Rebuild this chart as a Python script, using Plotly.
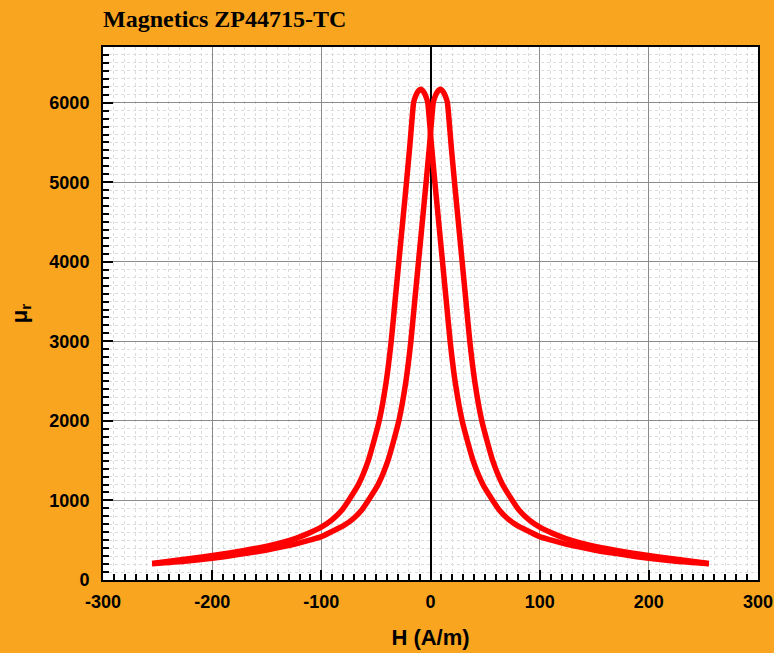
import plotly.graph_objects as go

# Ascending branch (peak near +9 A/m)
h_up = [-255, -225, -200, -175, -150, -125, -110, -100, -90, -80, -70, -63, -57, -48, -39, -29, -22.5,
        -18, -14.5, -11, -7.5, -4, -1, 1, 2.5, 4, 6, 9, 12, 14, 15.5, 17, 19, 22, 25.5, 29, 32.5, 36,
        40.5, 47, 57, 66, 75, 81, 90, 100, 113, 124, 139, 159, 184, 209, 234, 255]
mu_up = [205, 235, 272, 322, 378, 448, 504, 545, 612, 680, 780, 880, 1000, 1200, 1500, 2000, 2500,
         3000, 3500, 4000, 4500, 5000, 5450, 5780, 6000, 6070, 6130, 6168, 6130, 6070, 6000, 5780, 5450,
         5000, 4500, 4000, 3500, 3000, 2500, 2000, 1500, 1200, 1000, 880, 760, 665, 580, 520, 460, 400,
         340, 290, 245, 208]
# Descending branch (peak near -9 A/m)
h_down = [255, 225, 200, 175, 150, 125, 110, 100, 90, 80, 70, 63, 57, 48, 39, 29, 22.5,
          18, 14.5, 11, 7.5, 4, 1, -1, -2.5, -4, -6, -9, -12, -14, -15.5, -17, -19, -22, -25.5, -29, -32.5, -36,
          -40.5, -47, -57, -66, -75, -81, -90, -100, -113, -124, -139, -159, -184, -209, -234, -255]
mu_down = [205, 235, 272, 322, 378, 448, 504, 545, 612, 680, 780, 880, 1000, 1200, 1500, 2000, 2500,
           3000, 3500, 4000, 4500, 5000, 5450, 5780, 6000, 6070, 6130, 6168, 6130, 6070, 6000, 5780, 5450,
           5000, 4500, 4000, 3500, 3000, 2500, 2000, 1500, 1200, 1000, 880, 760, 665, 580, 520, 460, 400,
           340, 290, 245, 208]

x_tickvals = [-300, -200, -100, 0, 100, 200, 300]
x_ticktext = ["-300", "-200", "-100", "0", "100", "200", "300"]
y_tickvals = [0, 1000, 2000, 3000, 4000, 5000, 6000]
y_ticktext = ["0", "1000", "2000", "3000", "4000", "5000", "6000"]

BG = "#F9A51F"
fig = go.Figure()
for hx, my in [(h_up, mu_up), (h_down, mu_down)]:
    fig.add_trace(go.Scatter(x=hx, y=my, mode="lines",
                             line=dict(color="#FF0000", width=5.5, shape="spline", smoothing=0.5),
                             showlegend=False, hoverinfo="skip"))

tickfont = dict(family="Liberation Sans, Arial", size=18, color="black", weight="bold")
fig.update_layout(
    width=774, height=653,
    paper_bgcolor=BG, plot_bgcolor="white",
    margin=dict(l=103, r=16, t=47, b=73, autoexpand=False),
    title=dict(text="Magnetics ZP44715-TC", x=103/774, xref="container", xanchor="left",
               y=1 - 19/653, yref="container", yanchor="middle", automargin=False,
               font=dict(family="Liberation Serif, Times New Roman", size=24, color="black", weight="bold")),
    xaxis=dict(range=[-300, 300], tickvals=x_tickvals, ticktext=x_ticktext, automargin=False,
               ticks="inside", ticklen=10, tickwidth=2, tickcolor="black",
               showline=True, linecolor="black", linewidth=2, mirror=True,
               showgrid=True, gridcolor="#8c8c8c", gridwidth=1,
               zeroline=True, zerolinecolor="black", zerolinewidth=2,
               tickfont=tickfont, ticklabelstandoff=4,
               minor=dict(dtick=10, ticks="inside", ticklen=6, tickwidth=1.5, tickcolor="black",
                          showgrid=True, gridcolor="#dcdcdc", griddash="dot", gridwidth=1),
               title=dict(text="H (A/m)", standoff=19,
                          font=dict(family="Liberation Sans, Arial", size=22, color="black", weight="bold"))),
    yaxis=dict(range=[0, 6700], tickvals=y_tickvals, ticktext=y_ticktext, automargin=False,
               ticks="inside", ticklen=10, tickwidth=2, tickcolor="black",
               showline=True, linecolor="black", linewidth=2, mirror=True,
               showgrid=True, gridcolor="#8c8c8c", gridwidth=1,
               zeroline=False,
               tickfont=tickfont, ticklabelstandoff=8,
               minor=dict(dtick=100, ticks="inside", ticklen=6, tickwidth=1.5, tickcolor="black",
                          showgrid=True, gridcolor="#dcdcdc", griddash="dot", gridwidth=1),
               title=dict(text="μ<sub>r</sub>", standoff=16,
                          font=dict(family="Liberation Sans, Arial", size=22, color="black", weight="bold"))),
)
fig.write_html("out.html", config={"displayModeBar": False},
               post_script="document.body.style.margin='0';")
